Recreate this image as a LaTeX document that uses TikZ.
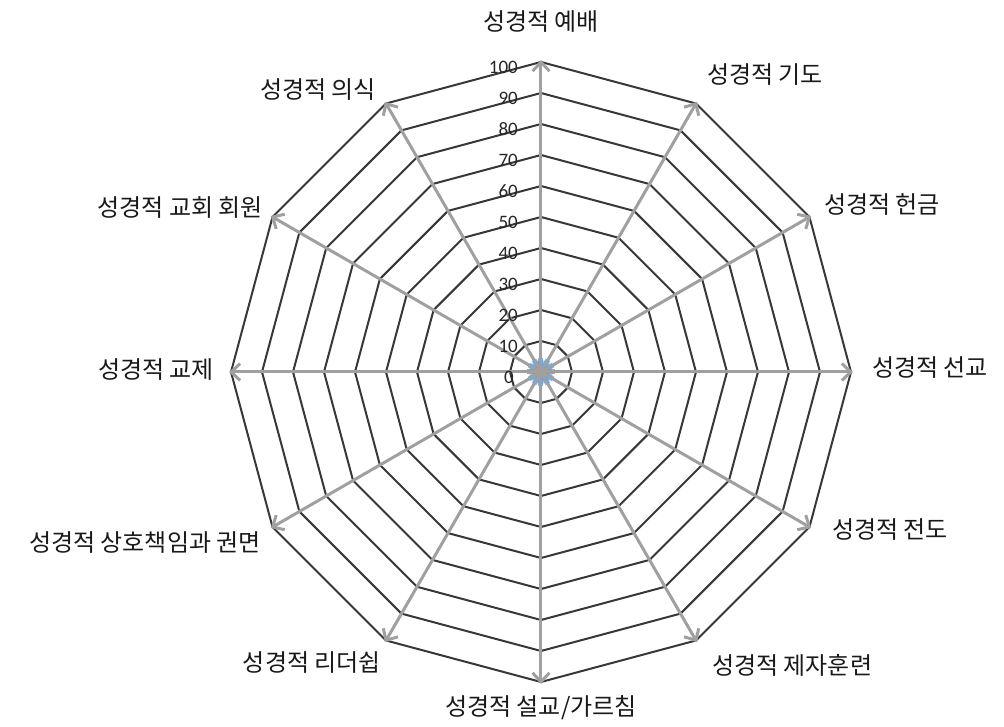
\documentclass[tikz,border=0pt]{standalone}
\usepackage{fontspec}
\usepackage{tikz}
\usetikzlibrary{arrows.meta}
\newfontfamily\kofont{Noto Sans CJK KR}
\newfontfamily\numfont{Carlito}
\definecolor{ringgray}{RGB}{55,55,55}
\definecolor{spokegray}{RGB}{160,160,160}
\definecolor{dotblue}{RGB}{70,160,250}
\tikzset{
  ring/.style={draw=ringgray, line width=2pt, line join=miter},
  spoke/.style={draw=spokegray, line width=3pt, -{Straight Barb[length=9pt,width=17pt]}},
  cat/.style={inner sep=0pt, text=black!90, font=\kofont\fontsize{24}{28}\selectfont},
  val/.style={inner sep=0pt, anchor=east, text=black!85, font=\numfont\fontsize{19}{21}\selectfont}
}

\begin{document}
\begin{tikzpicture}[x=1pt,y=1pt]
\useasboundingbox (-541,-355) rectangle (463,372);
% rings 10..100
\foreach \r in {31,62,...,310}
	\draw[ring] (90:\r) \foreach \a in {60,30,...,-240}{ -- (\a:\r)} -- cycle;
% blue mark at the centre
\fill[dotblue, opacity=0.45] (0,0) circle(12);
\foreach \a in {0,30,...,330}
	\draw[dotblue, line width=5pt, opacity=0.75] (0,0) -- (\a:14);
\coordinate (c) at (0,0);
\coordinate (t1) at (90:312);
\coordinate (t2) at (60:312);
\coordinate (t3) at (30:312);
\coordinate (t4) at (0:312);
\coordinate (t5) at (-30:312);
\coordinate (t6) at (-60:312);
\coordinate (t7) at (-90:312);
\coordinate (t8) at (-120:312);
\coordinate (t9) at (-150:312);
\coordinate (t10) at (180:312);
\coordinate (t11) at (150:312);
\coordinate (t12) at (120:312);
\draw[spoke] (c) -- (t1);
\draw[spoke] (c) -- (t2);
\draw[spoke] (c) -- (t3);
\draw[spoke] (c) -- (t4);
\draw[spoke] (c) -- (t5);
\draw[spoke] (c) -- (t6);
\draw[spoke] (c) -- (t7);
\draw[spoke] (c) -- (t8);
\draw[spoke] (c) -- (t9);
\draw[spoke] (c) -- (t10);
\draw[spoke] (c) -- (t11);
\draw[spoke] (c) -- (t12);
% scale
\node[val] (v0) at (-27,-5) {0};
\node[val] (v10) at (-23,26) {10};
\node[val] (v20) at (-23,57) {20};
\node[val] (v30) at (-23,88) {30};
\node[val] (v40) at (-23,119) {40};
\node[val] (v50) at (-23,150) {50};
\node[val] (v60) at (-23,181) {60};
\node[val] (v70) at (-23,212) {70};
\node[val] (v80) at (-23,243) {80};
\node[val] (v90) at (-23,274) {90};
\node[val] (v100) at (-23,305) {100};
% categories
\node[cat] (worship) at (0,350) {성경적 예배};
\node[cat, anchor=west] (prayer) at (166,297) {성경적 기도};
\node[cat, anchor=west] (giving) at (283,167) {성경적 헌금};
\node[cat, anchor=west] (mission) at (331,4) {성경적 선교};
\node[cat, anchor=west] (evangel) at (291,-158) {성경적 전도};
\node[cat, anchor=west] (disciple) at (171,-293) {성경적 제자훈련};
\node[cat] (preach) at (0,-336) {성경적 설교/가르침};
\node[cat, anchor=east] (leader) at (-160,-291) {성경적 리더쉽};
\node[cat, anchor=east] (account) at (-280,-171) {성경적 상호책임과 권면};
\node[cat, anchor=east] (fellow) at (-327,2) {성경적 교제};
\node[cat, anchor=east] (member) at (-278,164) {성경적 교회 회원};
\node[cat, anchor=east] (rite) at (-165,282) {성경적 의식};
\end{tikzpicture}
\end{document}
